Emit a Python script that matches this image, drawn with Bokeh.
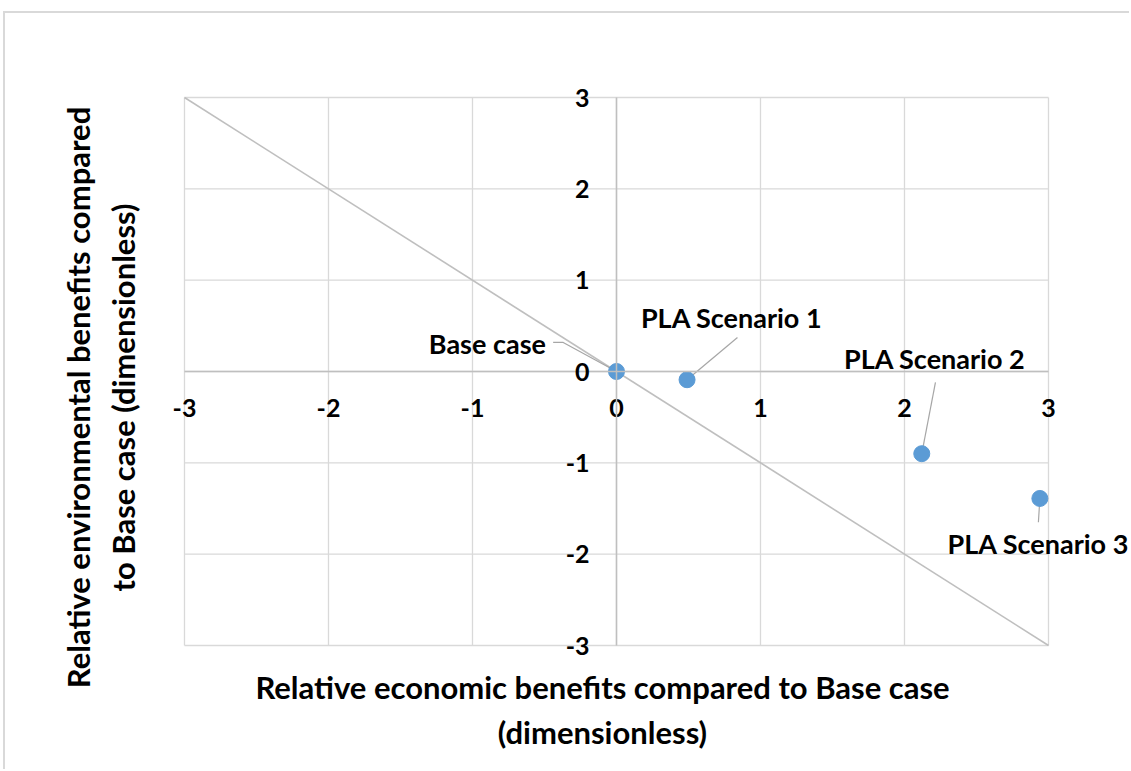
import math
from bokeh.plotting import figure
from bokeh.models import LinearAxis, FixedTicker, Range1d, Label, PrintfTickFormatter
from bokeh.embed import file_html
from bokeh.resources import INLINE

# ---- data ----
names = ["Base case", "PLA Scenario 1", "PLA Scenario 2", "PLA Scenario 3"]
econ = [0.0, 0.49, 2.12, 2.94]
env = [0.0, -0.09, -0.90, -1.39]
ticks = [-3, -2, -1, 0, 1, 2, 3]
diag_x = [-3, 3]
diag_y = [3, -3]

# label anchors (data coords) and leader-line paths
lab_x = [-0.49, 0.80, 2.21, 2.93]
lab_y = [0.31, 0.59, 0.14, -1.88]
lab_align = ["right", "center", "center", "center"]
lead_xs = [[-0.44, -0.37, 0.0], [0.84, 0.49], [2.215, 2.12], [2.93, 2.94]]
lead_ys = [[0.318, 0.318, 0.0], [0.372, -0.09], [-0.12, -0.90], [-1.65, -1.39]]

x_title = "Relative economic benefits compared to Base case\n(dimensionless)"
y_title = "Relative environmental benefits compared\nto Base case (dimensionless)"

FONT = "Lato"

# ---- layout (page pixels) ----
OX, OY = 5, 13            # canvas offset from page (margin + border)
W, H = 1126, 758          # canvas size
L, R, T, B = 184, 1048, 97, 645   # where -3..3 sit on the page
xs = (R - L) / 6.0
ys = (B - T) / 6.0
x0 = -3 - (L - OX) / xs
x1 = 3 + (OX + W - R) / xs
y1 = 3 + (T - OY) / ys
y0 = -3 - (OY + H - B) / ys

def px(v):
    return -3 + (v - L) / xs

def py(v):
    return 3 - (v - T) / ys

p = figure(width=W, height=H, output_backend="svg", toolbar_location=None,
           x_range=Range1d(x0, x1), y_range=Range1d(y0, y1),
           x_axis_type=None, y_axis_type=None,
           min_border=0, min_border_left=0, min_border_right=0,
           min_border_top=0, min_border_bottom=0,
           background_fill_color="white", border_fill_color="white",
           outline_line_color=None)
p.styles = {"border-top": "2px solid #d9d9d9", "border-left": "2px solid #d9d9d9",
            "margin-top": "11px", "margin-left": "3px"}

# gridlines limited to the -3..3 box (drawn from the tick list)
lo = [min(ticks)] * len(ticks)
hi = [max(ticks)] * len(ticks)
p.segment(x0=ticks, y0=lo, x1=ticks, y1=hi, line_color="#d9d9d9", line_width=1.3)
p.segment(x0=lo, y0=ticks, x1=hi, y1=ticks, line_color="#d9d9d9", line_width=1.3)

# axes crossing at zero
def zero_axis(standoff):
    return LinearAxis(fixed_location=0, bounds=(-3, 3), ticker=FixedTicker(ticks=ticks),
                      formatter=PrintfTickFormatter(format="%d"),
                      axis_line_color="#bfbfbf", axis_line_width=1.5,
                      major_tick_line_color=None, minor_tick_line_color=None,
                      major_tick_out=0, major_tick_in=0,
                      major_label_standoff=standoff,
                      major_label_text_font=FONT, major_label_text_font_style="bold",
                      major_label_text_font_size="25px", major_label_text_color="black")

p.add_layout(zero_axis(27), "below")
p.add_layout(zero_axis(27), "left")

# diagonal reference line
p.line(diag_x, diag_y, line_color="#bfbfbf", line_width=1.6)

# leader lines
p.multi_line(lead_xs, lead_ys, line_color="#a6a6a6", line_width=1.2)

# points
p.scatter(econ, env, size=16, fill_color="#5b9bd5", line_color="#5b9bd5")

# data labels
for n, x, y, a in zip(names, lab_x, lab_y, lab_align):
    p.add_layout(Label(x=x, y=y, text=n, text_align=a, text_baseline="middle",
                       text_font=FONT, text_font_style="bold", text_font_size="27px",
                       text_color="black"))

# axis titles
p.add_layout(Label(x=px(602), y=py(709), text=x_title, text_align="center",
                   text_baseline="middle", text_font=FONT, text_font_style="bold",
                   text_font_size="31px", text_color="black"))
p.add_layout(Label(x=px(100), y=py(397), text=y_title, text_align="center",
                   text_baseline="middle", angle=math.pi / 2, text_font=FONT,
                   text_font_style="bold", text_font_size="31px", text_color="black"))

open("out.html", "w").write(file_html(p, INLINE))
